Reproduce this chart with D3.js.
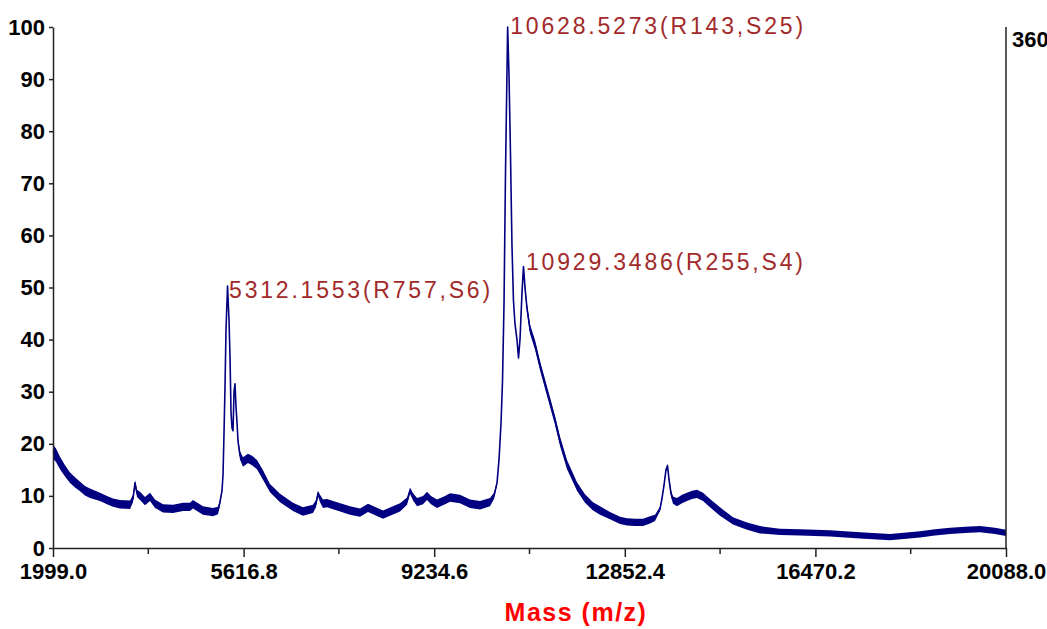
<!DOCTYPE html>
<html>
<head>
<meta charset="utf-8">
<script src="https://cdn.jsdelivr.net/npm/d3@7"></script>
<style>
  body { margin: 0; background: #fff; }
  svg { display: block; }
</style>
</head>
<body>
<svg id="chart" width="1047" height="629"></svg>
<script>
// spectrum: m/z, relative intensity (%), and the half width of the noise band
const mass = [1999, 2056, 2132, 2227, 2322, 2417, 2512, 2606, 2701, 2891, 3024, 3138, 3271, 3461, 3518, 3556, 3593, 3650, 3745, 3840,
  3935, 4087, 4277, 4467, 4599, 4656, 4846, 5036, 5131, 5169, 5207, 5226, 5245, 5264, 5283, 5312.1553, 5339, 5359, 5378, 5397,
  5416, 5435, 5454, 5473, 5492, 5511, 5548, 5605, 5700, 5776, 5871, 5985, 6118, 6308, 6554, 6744, 6934, 6991, 7029, 7067,
  7124, 7200, 7390, 7636, 7826, 7978, 8263, 8586, 8719, 8776, 8833, 8909, 9023, 9098, 9174, 9288, 9440, 9535, 9724, 9914,
  10104, 10294, 10370, 10427, 10465, 10503, 10531, 10560, 10588, 10628.5273, 10654, 10682, 10711, 10739, 10768, 10806, 10835, 10863, 10901, 10929.3486,
  10958, 10996, 11053, 11148, 11243, 11338, 11433, 11528, 11623, 11756, 11945, 12097, 12249, 12382, 12572, 12762, 12895, 13047, 13199, 13331,
  13426, 13521, 13558, 13596, 13634, 13663, 13691, 13729, 13767, 13843, 13938, 14033, 14128, 14223, 14337, 14470, 14659, 14906, 15172, 15419,
  15798, 16178, 16747, 17317, 17886, 18456, 18740, 19025, 19310, 19594, 19879, 20088];

const intensity = [18.5, 17.8, 16.3, 14.8, 13.5, 12.6, 11.8, 11.0, 10.5, 9.8, 9.2, 8.7, 8.4, 8.3, 9.5, 12.5, 10.5, 10.0, 9.0, 9.8,
  8.5, 7.6, 7.5, 7.9, 7.9, 8.4, 7.2, 6.9, 7.2, 8.8, 11, 14, 22, 31, 42, 50.3, 44, 36.6, 26, 23,
  22.5, 30, 31.5, 27, 24, 20.5, 17.8, 16.5, 17.2, 16.8, 16, 14, 11.5, 9.6, 7.9, 7, 7.5, 8.5, 10.5, 9.5,
  8.5, 8.6, 8, 7.2, 6.8, 7.7, 6.4, 7.8, 9, 11, 9.8, 8.8, 9.2, 10, 9.2, 8.5, 9.2, 9.7, 9.4, 8.5,
  8.2, 8.8, 10, 12.5, 17, 24, 32, 47, 72, 100, 91, 76, 58, 47.5, 43, 40, 36.5, 40, 49, 54,
  50, 46, 42, 39, 35, 31.5, 28, 24.5, 20.5, 16, 11.8, 9.5, 8, 7.2, 6.2, 5.3, 5.0, 4.9, 4.9, 5.4,
  5.8, 7.5, 9.5, 12, 15, 15.8, 13.2, 10.5, 9.2, 8.8, 9.4, 9.8, 10.2, 10.4, 9.8, 8.6, 7.0, 5.2, 4.2, 3.5,
  3.1, 3.0, 2.8, 2.4, 2.1, 2.6, 3.0, 3.3, 3.5, 3.6, 3.3, 2.9];

const spread = [1.3, 1.3, 1.2, 1.1, 1.0, 1.0, 0.9, 0.9, 0.9, 0.8, 0.8, 0.8, 0.8, 0.8, 0.7, 0.5, 0.7, 0.8, 0.8, 0.8,
  0.8, 0.8, 0.8, 0.8, 0.8, 0.8, 0.8, 0.8, 0.7, 0.5, 0.2, 0.1, 0.1, 0.1, 0.1, 0.1, 0.1, 0.1, 0.1, 0.1,
  0.1, 0.1, 0.1, 0.2, 0.3, 0.5, 0.8, 0.9, 0.9, 0.9, 0.9, 0.9, 0.8, 0.8, 0.8, 0.8, 0.8, 0.7, 0.5, 0.7,
  0.8, 0.8, 0.8, 0.8, 0.8, 0.8, 0.8, 0.8, 0.7, 0.6, 0.7, 0.8, 0.8, 0.8, 0.8, 0.8, 0.8, 0.8, 0.8, 0.8,
  0.8, 0.8, 0.6, 0.3, 0.1, 0.1, 0.1, 0.1, 0.1, 0.1, 0.1, 0.1, 0.1, 0.1, 0.1, 0.1, 0.3, 0.3, 0.3, 0.3,
  0.6, 0.8, 0.9, 0.9, 0.9, 0.9, 0.9, 0.9, 0.9, 0.9, 0.8, 0.8, 0.8, 0.8, 0.7, 0.7, 0.7, 0.7, 0.7, 0.7,
  0.6, 0.4, 0.3, 0.3, 0.3, 0.3, 0.4, 0.6, 0.7, 0.8, 0.8, 0.8, 0.8, 0.8, 0.8, 0.8, 0.8, 0.7, 0.7, 0.7,
  0.6, 0.6, 0.6, 0.6, 0.6, 0.6, 0.6, 0.6, 0.6, 0.6, 0.6, 0.6];

// labelled peaks
const peakMass = [5312.1553, 10628.5273, 10929.3486];
const peakHeight = [50.3, 100, 54];
const peakTags = ["(R757,S6)", "(R143,S25)", "(R255,S4)"];

// axis ticks
const xTicks = [1999.0, 5616.8, 9234.6, 12852.4, 16470.2, 20088.0];
const yTicks = [0, 10, 20, 30, 40, 50, 60, 70, 80, 90, 100];
const rightLabel = "360";
const xTitle = "Mass (m/z)";

// layout (label offsets in px from the peak apex)
const labelDx = [1.5, 2.5, 2.5];
const labelDy = [12, 7, 3];
const labelWidth = [261, 293, 277];

const svg = d3.select("#chart");
const font = "'Liberation Sans', Arial, sans-serif";

const x = d3.scaleLinear().domain([1999, 20088]).range([53, 1006]);
const y = d3.scaleLinear().domain([0, 100]).range([548, 27]);

const points = mass.map((m, i) => ({m: m, v: intensity[i], s: spread[i]}));

// noise band then centre line
svg.append("path")
    .datum(points)
    .attr("fill", "#000080")
    .attr("d", d3.area()
        .x(d => x(d.m))
        .y0(d => y(Math.max(0, d.v - d.s)))
        .y1(d => y(d.v + d.s)));

svg.append("path")
    .datum(points)
    .attr("fill", "none")
    .attr("stroke", "#000080")
    .attr("stroke-width", 1.6)
    .attr("stroke-linejoin", "round")
    .attr("d", d3.line().x(d => x(d.m)).y(d => y(d.v)));

// left axis
const yAxis = svg.append("g")
    .attr("transform", "translate(53,0)")
    .call(d3.axisLeft(y).tickValues(yTicks).tickSize(4).tickSizeOuter(0).tickPadding(4));

// bottom axis with minor ticks in between
const xAxis = svg.append("g")
    .attr("transform", "translate(0,548)")
    .call(d3.axisBottom(x).tickValues(xTicks).tickSize(9).tickSizeOuter(0).tickPadding(6)
        .tickFormat(d => d.toFixed(1)));

xAxis.selectAll("line.minor")
    .data(d3.pairs(xTicks, (a, b) => (a + b) / 2))
    .enter()
    .append("line")
        .attr("class", "minor")
        .attr("x1", d => x(d))
        .attr("x2", d => x(d))
        .attr("y2", 6);

[yAxis, xAxis].forEach(g => {
    g.selectAll("path, line").attr("stroke", "#222").attr("stroke-width", 1.5);
    g.selectAll("text")
        .attr("fill", "#000")
        .style("font-family", font)
        .style("font-size", "22px")
        .style("font-weight", "bold");
});

// right frame line
svg.append("line")
    .attr("x1", x.range()[1]).attr("x2", x.range()[1])
    .attr("y1", y(100)).attr("y2", y(0))
    .attr("stroke", "#222")
    .attr("stroke-width", 1.5);

svg.append("text")
    .attr("x", x.range()[1] + 6)
    .attr("y", y(100) + 20)
    .style("font-family", font)
    .style("font-size", "22px")
    .style("font-weight", "bold")
    .text(rightLabel);

// peak annotations
svg.selectAll("text.peak")
    .data(peakMass)
    .enter()
    .append("text")
        .attr("class", "peak")
        .attr("x", (d, i) => x(d) + labelDx[i])
        .attr("y", (d, i) => y(peakHeight[i]) + labelDy[i])
        .attr("fill", "#a22a2a")
        .attr("textLength", (d, i) => labelWidth[i])
        .attr("lengthAdjust", "spacing")
        .style("font-family", font)
        .style("font-size", "23px")
        .text((d, i) => d.toFixed(4) + peakTags[i]);

// x title
svg.append("text")
    .attr("x", 576)
    .attr("y", 621)
    .attr("text-anchor", "middle")
    .attr("fill", "#ff0000")
    .style("font-family", font)
    .style("font-size", "25px")
    .style("font-weight", "bold")
    .style("letter-spacing", "1.5px")
    .text(xTitle);
</script>
</body>
</html>
